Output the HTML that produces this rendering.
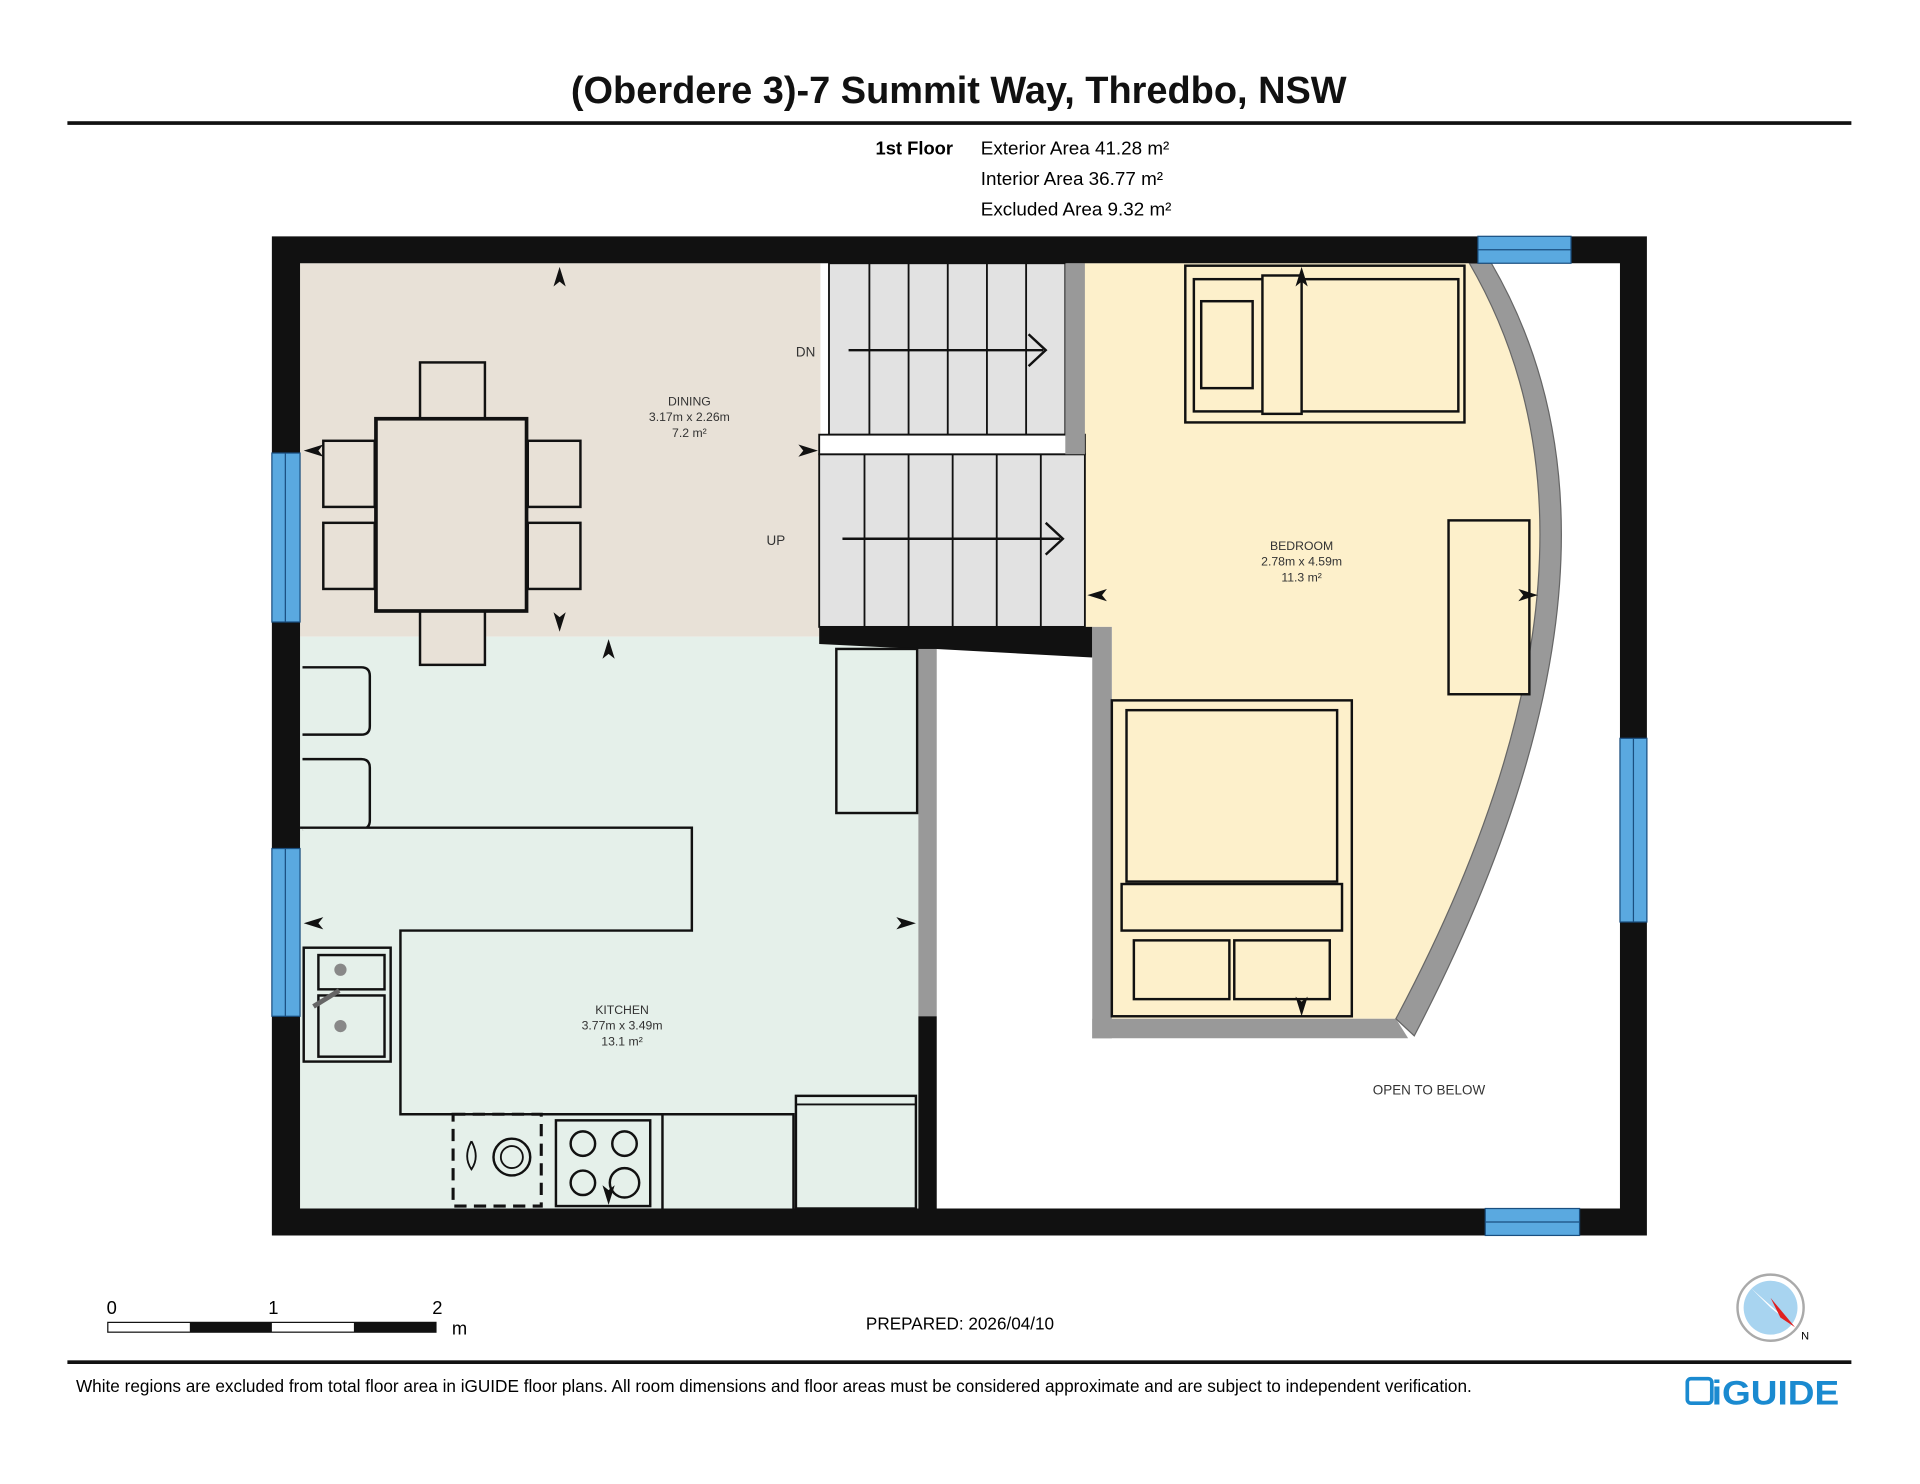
<!DOCTYPE html>
<html><head><meta charset="utf-8"><style>
html,body{margin:0;padding:0;background:#fff}
svg{display:block}
text{font-family:"Liberation Sans",Arial,sans-serif}
</style></head><body>
<svg width="1920" height="1484" viewBox="0 0 1568 1212" xmlns="http://www.w3.org/2000/svg">
<rect width="1568" height="1212" fill="#fff"/>
<text x="783" y="84" font-size="31" font-weight="bold" text-anchor="middle" fill="#111">(Oberdere 3)-7 Summit Way, Thredbo, NSW</text>
<rect x="55" y="99" width="1457" height="3" fill="#111"/>
<text x="715" y="126" font-size="15" font-weight="bold">1st Floor</text>
<text x="801" y="126" font-size="15.4">Exterior Area 41.28 m²</text>
<text x="801" y="151" font-size="15.4">Interior Area 36.77 m²</text>
<text x="801" y="176" font-size="15.4">Excluded Area 9.32 m²</text>

<rect x="245" y="215" width="425" height="305" fill="#e8e1d7"/>
<rect x="245" y="520" width="505" height="467" fill="#e5f0ea"/>
<path d="M885 215 L1200 215 Q1340 456 1140 832 L908 832 L908 512 L885 512 Z" fill="#fdf0cb"/>
<rect x="677" y="215" width="193" height="140" fill="#e2e2e2" stroke="#111" stroke-width="1.5"/>
<g stroke="#111" stroke-width="1.5">
<line x1="710" y1="215" x2="710" y2="355"/><line x1="742" y1="215" x2="742" y2="355"/><line x1="774" y1="215" x2="774" y2="355"/><line x1="806" y1="215" x2="806" y2="355"/><line x1="838" y1="215" x2="838" y2="355"/>
</g>
<rect x="669" y="371" width="217" height="141" fill="#e2e2e2" stroke="#111" stroke-width="1.5"/>
<g stroke="#111" stroke-width="1.5">
<line x1="706" y1="371" x2="706" y2="512"/><line x1="742" y1="371" x2="742" y2="512"/><line x1="778" y1="371" x2="778" y2="512"/><line x1="814" y1="371" x2="814" y2="512"/><line x1="850" y1="371" x2="850" y2="512"/>
</g>
<g stroke="#111" stroke-width="2" fill="none">
<line x1="693" y1="286" x2="852" y2="286"/><polyline points="840,273 854,286 840,299"/>
<line x1="688" y1="440" x2="866" y2="440"/><polyline points="854,427 868,440 854,453"/>
</g>
<rect x="669" y="355" width="217" height="16" fill="#fff" stroke="#111" stroke-width="1.5"/>
<rect x="870" y="215" width="16" height="156" fill="#999"/>
<text x="650" y="291" font-size="11" fill="#333">DN</text>
<text x="626" y="445" font-size="11" fill="#333">UP</text>
<polygon points="669,512 892,512 892,537 765,530 750,530 669,526" fill="#111"/>
<rect x="750" y="530" width="15" height="300" fill="#999"/>
<rect x="750" y="830" width="15" height="157" fill="#111"/>
<rect x="892" y="512" width="16" height="336" fill="#999"/>
<path d="M892 832 L1140 832 L1150 848 L892 848 Z" fill="#999"/>
<path d="M1200 215 Q1340 456 1140 832 L1155 846 Q1358 456 1218 215 Z" fill="#999" stroke="#666" stroke-width="1"/>
<path fill-rule="evenodd" fill="#111" d="M222 193 H1345 V1009 H222 Z M245 215 V987 H1323 V215 Z"/>
<g fill="#5aa9e0" stroke="#1a4f80" stroke-width="1">
<rect x="222" y="370" width="23" height="138"/><rect x="222" y="693" width="23" height="137"/>
<rect x="1207" y="193" width="76" height="22"/><rect x="1323" y="603" width="22" height="150"/>
<rect x="1213" y="987" width="77" height="22"/>
</g>
<g stroke="#1a4f80" stroke-width="1"><line x1="233" y1="370" x2="233" y2="508"/><line x1="233" y1="693" x2="233" y2="830"/><line x1="1207" y1="204" x2="1283" y2="204"/><line x1="1334" y1="603" x2="1334" y2="753"/><line x1="1213" y1="998" x2="1290" y2="998"/></g>
<g fill="#e8e1d7" stroke="#111" stroke-width="2">
<rect x="343" y="296" width="53" height="46"/><rect x="343" y="499" width="53" height="44"/>
<rect x="264" y="360" width="42" height="54"/><rect x="264" y="427" width="42" height="54"/>
<rect x="431" y="360" width="43" height="54"/><rect x="431" y="427" width="43" height="54"/>
<rect x="307" y="342" width="123" height="157" stroke-width="3"/>
</g>
<text x="563" y="331" font-size="10" text-anchor="middle" fill="#333">DINING</text>
<text x="563" y="344" font-size="10" text-anchor="middle" fill="#333">3.17m x 2.26m</text>
<text x="563" y="357" font-size="10" text-anchor="middle" fill="#333">7.2 m²</text>
<g fill="#e5f0ea" stroke="#111" stroke-width="2">
<path d="M247 545 H295 Q302 545 302 552 V593 Q302 600 295 600 H247"/>
<path d="M247 620 H295 Q302 620 302 627 V670 Q302 677 295 677 H247"/>
<rect x="683" y="530" width="66" height="134"/>
<path d="M245 676 H565 V760 H327 V910 H648 V987"/>
<rect x="248" y="774" width="71" height="93"/>
<rect x="260" y="780" width="54" height="28"/><rect x="260" y="813" width="54" height="50"/>
<rect x="454" y="915" width="77" height="70"/>
<rect x="650" y="895" width="98" height="92"/>
</g>
<line x1="541" y1="910" x2="541" y2="987" stroke="#111" stroke-width="2"/>
<line x1="650" y1="902" x2="748" y2="902" stroke="#111" stroke-width="1.5"/>
<rect x="370" y="910" width="72" height="75" fill="none" stroke="#111" stroke-width="2.5" stroke-dasharray="10,6"/>
<circle cx="418" cy="945" r="15" fill="none" stroke="#111" stroke-width="2"/><circle cx="418" cy="945" r="9" fill="none" stroke="#111" stroke-width="1.5"/>
<path d="M385 932 Q392 945 385 955 Q378 945 385 932" fill="none" stroke="#111" stroke-width="1.5"/>
<g fill="none" stroke="#111" stroke-width="2"><circle cx="476" cy="934" r="10"/><circle cx="510" cy="934" r="10"/><circle cx="476" cy="966" r="10"/><circle cx="510" cy="966" r="12"/></g>
<circle cx="278" cy="792" r="5" fill="#888"/><circle cx="278" cy="838" r="5" fill="#888"/>
<line x1="256" y1="822" x2="277" y2="809" stroke="#666" stroke-width="4"/>
<text x="508" y="828" font-size="10" text-anchor="middle" fill="#333">KITCHEN</text>
<text x="508" y="841" font-size="10" text-anchor="middle" fill="#333">3.77m x 3.49m</text>
<text x="508" y="854" font-size="10" text-anchor="middle" fill="#333">13.1 m²</text>
<g fill="#fdf0cb" stroke="#111" stroke-width="2">
<rect x="968" y="217" width="228" height="128"/>
<rect x="975" y="228" width="216" height="108"/>
<rect x="981" y="246" width="42" height="71"/>
<rect x="1031" y="225" width="32" height="113"/>
<rect x="1183" y="425" width="66" height="142"/>
<rect x="908" y="572" width="196" height="258"/>
<rect x="920" y="580" width="172" height="140"/>
<rect x="916" y="722" width="180" height="38"/>
<rect x="926" y="768" width="78" height="48"/><rect x="1008" y="768" width="78" height="48"/>
</g>
<text x="1063" y="449" font-size="10" text-anchor="middle" fill="#333">BEDROOM</text>
<text x="1063" y="462" font-size="10" text-anchor="middle" fill="#333">2.78m x 4.59m</text>
<text x="1063" y="475" font-size="10" text-anchor="middle" fill="#333">11.3 m²</text>
<text x="1167" y="894" font-size="11" text-anchor="middle" fill="#333">OPEN TO BELOW</text>
<g fill="#111">
<polygon points="457,218 452,234 457,230 462,234"/>
<polygon points="457,516 452,500 457,504 462,500"/>
<polygon points="497,522 492,538 497,534 502,538"/>
<polygon points="248,368 264,363 260,368 264,373"/>
<polygon points="668,368 652,363 656,368 652,373"/>
<polygon points="248,754 264,749 260,754 264,759"/>
<polygon points="748,754 732,749 736,754 732,759"/>
<polygon points="888,486 904,481 900,486 904,491"/>
<polygon points="1256,486 1240,481 1244,486 1240,491"/>
<polygon points="1063,218 1058,234 1063,230 1068,234"/>
<polygon points="1063,830 1058,814 1063,818 1068,814"/>
<polygon points="497,984 492,968 497,972 502,968"/>
</g>
<text x="87" y="1073" font-size="15">0</text><text x="219" y="1073" font-size="15">1</text><text x="353" y="1073" font-size="15">2</text><text x="369" y="1090" font-size="15">m</text>
<rect x="88" y="1080" width="268" height="8" fill="#fff" stroke="#111" stroke-width="1"/>
<rect x="155" y="1080" width="67" height="8" fill="#111"/><rect x="289" y="1080" width="67" height="8" fill="#111"/>
<text x="784" y="1086" font-size="14" text-anchor="middle">PREPARED: 2026/04/10</text>
<circle cx="1446" cy="1068" r="27" fill="#fff" stroke="#aaa" stroke-width="2"/>
<circle cx="1446" cy="1068" r="22" fill="#a8d4f0"/>
<polygon points="1430,1052 1466,1084 1446,1068" fill="#fff"/>
<polygon points="1466,1084 1446,1060 1454,1076" fill="#e02020"/>
<text x="1471" y="1094" font-size="9">N</text>
<rect x="55" y="1111" width="1457" height="3" fill="#111"/>
<text x="62" y="1137" font-size="14" textLength="1140" lengthAdjust="spacingAndGlyphs">White regions are excluded from total floor area in iGUIDE floor plans. All room dimensions and floor areas must be considered approximate and are subject to independent verification.</text>
<rect x="1378" y="1126" width="20" height="20" rx="3" fill="none" stroke="#1a8ad0" stroke-width="3"/>
<text x="1398" y="1147" font-size="28" font-weight="bold" fill="#1a8ad0" textLength="104" lengthAdjust="spacingAndGlyphs">iGUIDE</text>
</svg>
</body></html>
